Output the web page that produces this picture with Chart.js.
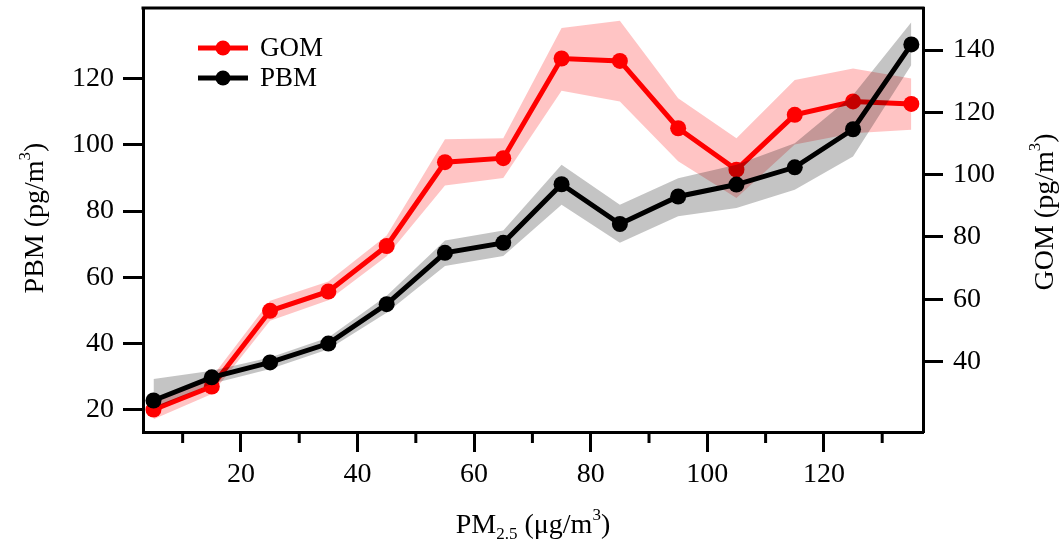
<!DOCTYPE html>
<html>
<head>
<meta charset="utf-8">
<script src="https://cdn.jsdelivr.net/npm/chart.js@4.4.1/dist/chart.umd.min.js"></script>
<style>
  html, body { margin: 0; padding: 0; background: #fff; }
  canvas { display: block; }
</style>
</head>
<body>
<canvas id="chart_main" width="1063" height="547"></canvas>
<script>
"use strict";

// PM2.5 bins (μg/m3)
const pm_X    = [5, 15, 25, 35, 45, 55, 65, 75, 85, 95, 105, 115, 125, 135];

// GOM (right axis)
const gom_Val = [24.6, 32.0, 56.3, 62.5, 77.1, 104.0, 105.3, 137.3, 136.5, 114.9, 101.6, 119.2, 123.5, 122.7];
const gom_Hi  = [26.6, 35.0, 59.5, 65.7, 80.5, 111.4, 111.7, 147.1, 149.4, 124.5, 111.7, 130.4, 134.1, 130.9];
const gom_Lo  = [21.5, 29.6, 53.1, 59.7, 73.8,  96.5,  98.9, 126.9, 123.5, 104.3,  92.5, 109.7, 113.3, 114.4];

// PBM (left axis)
const pbm_Val = [22.8, 29.8, 34.3, 40.0, 51.9, 67.4, 70.4, 88.1, 76.1, 84.4, 88.0,  93.2, 104.7, 130.3];
const pbm_Hi  = [29.3, 31.8, 35.8, 41.8, 54.4, 71.1, 74.1, 94.0, 81.9, 89.9, 94.0, 100.5, 115.0, 137.0];
const pbm_Lo  = [20.5, 27.9, 32.3, 38.3, 49.3, 63.4, 66.4, 81.9, 70.4, 78.4, 80.9,  86.4,  96.5, 124.1];

const x_Ticks_Major = [20, 40, 60, 80, 100, 120];
const x_Ticks_Minor = [10, 30, 50, 70, 90, 110, 130];
const y_Ticks_L     = [20, 40, 60, 80, 100, 120];
const y_Ticks_R     = [40, 60, 80, 100, 120, 140];

const SERIF = "'Liberation Serif', 'DejaVu Serif', serif";
const pts = arr => arr.map((v, i) => ({ x: pm_X[i], y: v }));

// 上付き・下付き付きの文字
function drawRuns(ctx, runs, cx, y, size) {
    const big = size + 'px ' + SERIF, small = Math.round(size * 0.62) + 'px ' + SERIF;
    let w = 0;
    runs.forEach(r => { ctx.font = r[1] ? small : big; w += ctx.measureText(r[0]).width; });
    let x = cx - w / 2;
    ctx.textAlign = 'left';
    ctx.textBaseline = 'alphabetic';
    runs.forEach(r => {
        ctx.font = r[1] ? small : big;
        const dy = r[1] === 1 ? -size * 0.45 : (r[1] === 2 ? size * 0.2 : 0);
        ctx.fillText(r[0], x, y + dy);
        x += ctx.measureText(r[0]).width;
    });
}

const decor = {
    id: 'decor',
    afterDraw(chart) {
        const ctx = chart.ctx, a = chart.chartArea, sx = chart.scales.x;
        ctx.save();
        ctx.fillStyle = '#000';
        ctx.strokeStyle = '#000';
        // 上の枠
        ctx.lineWidth = 3;
        ctx.beginPath();
        ctx.moveTo(a.left - 1.5, a.top);
        ctx.lineTo(a.right + 1.5, a.top);
        ctx.stroke();
        // 補助目盛
        x_Ticks_Minor.forEach(v => {
            const px = sx.getPixelForValue(v);
            ctx.beginPath();
            ctx.moveTo(px, a.bottom);
            ctx.lineTo(px, a.bottom + 11);
            ctx.stroke();
        });
        // 軸タイトル
        drawRuns(ctx, [['PM', 0], ['2.5', 2], [' (μg/m', 0], ['3', 1], [')', 0]], 533, 533, 28);
        ctx.save();
        ctx.translate(43, 218);
        ctx.rotate(-Math.PI / 2);
        drawRuns(ctx, [['PBM (pg/m', 0], ['3', 1], [')', 0]], 0, 0, 28);
        ctx.restore();
        ctx.save();
        ctx.translate(1053, 212);
        ctx.rotate(-Math.PI / 2);
        drawRuns(ctx, [['GOM (pg/m', 0], ['3', 1], [')', 0]], 0, 0, 28);
        ctx.restore();
        // 凡例
        [['GOM', '#ff0000', 48], ['PBM', '#000000', 78]].forEach(e => {
            ctx.strokeStyle = e[1];
            ctx.fillStyle = e[1];
            ctx.lineWidth = 5;
            ctx.beginPath();
            ctx.moveTo(198, e[2]);
            ctx.lineTo(248, e[2]);
            ctx.stroke();
            ctx.beginPath();
            ctx.arc(223, e[2], 7.5, 0, Math.PI * 2);
            ctx.fill();
            ctx.fillStyle = '#000';
            ctx.font = '27px ' + SERIF;
            ctx.textAlign = 'left';
            ctx.textBaseline = 'middle';
            ctx.fillText(e[0], 260, e[2] + 1);
        });
        ctx.restore();
    }
};

const tickFont = { family: SERIF, size: 28 };
const keepTicks = list => s => { s.ticks = list.map(v => ({ value: v })); };
const noPad = s => { s.paddingTop = 0; s.paddingBottom = 0; s.paddingLeft = 0; s.paddingRight = 0; };

var ctx = document.getElementById('chart_main');
let chart = new Chart(ctx, {
    type: 'line',
    data: {
        datasets: [
            { label: 'GOM', data: pts(gom_Val), yAxisID: 'y2', order: 3,
              borderColor: '#ff0000', borderWidth: 5, backgroundColor: '#ff0000',
              pointRadius: 8, pointBorderWidth: 0, pointBackgroundColor: '#ff0000', fill: false },
            { label: 'GOM_hi', data: pts(gom_Hi), yAxisID: 'y2', order: 4,
              borderWidth: 0, pointRadius: 0, fill: '+1', backgroundColor: 'rgba(255,0,0,0.23)' },
            { label: 'GOM_lo', data: pts(gom_Lo), yAxisID: 'y2', order: 4,
              borderWidth: 0, pointRadius: 0, fill: false },
            { label: 'PBM', data: pts(pbm_Val), yAxisID: 'y', order: 1,
              borderColor: '#000000', borderWidth: 5, backgroundColor: '#000000',
              pointRadius: 8, pointBorderWidth: 0, pointBackgroundColor: '#000000', fill: false },
            { label: 'PBM_hi', data: pts(pbm_Hi), yAxisID: 'y', order: 2,
              borderWidth: 0, pointRadius: 0, fill: '+1', backgroundColor: 'rgba(0,0,0,0.23)' },
            { label: 'PBM_lo', data: pts(pbm_Lo), yAxisID: 'y', order: 2,
              borderWidth: 0, pointRadius: 0, fill: false },
        ],
    },
    options: {
        responsive: false,
        animation: false,
        layout: { padding: { top: 6, left: 0, right: 0, bottom: 0 } },
        elements: { line: { tension: 0 } },
        plugins: {
            legend: { display: false },
            tooltip: { enabled: false },
        },
        scales: {
            x: {
                type: 'linear', min: 3.2, max: 137,
                afterBuildTicks: keepTicks(x_Ticks_Major),
                afterFit: s => { s.height = 115; noPad(s); },
                border: { color: '#000', width: 3 },
                grid: { drawOnChartArea: false, tickLength: 20, tickWidth: 3, color: '#000' },
                ticks: { autoSkip: false, maxRotation: 0, padding: 6, color: '#000', font: tickFont },
            },
            y: {
                type: 'linear', position: 'left', min: 13.3, max: 141.3,
                afterBuildTicks: keepTicks(y_Ticks_L),
                afterFit: s => { s.width = 143; noPad(s); },
                border: { color: '#000', width: 3 },
                grid: { drawOnChartArea: false, tickLength: 20, tickWidth: 3, color: '#000' },
                ticks: { padding: 9, color: '#000', font: tickFont },
            },
            y2: {
                type: 'linear', position: 'right', min: 17.4, max: 153.5,
                afterBuildTicks: keepTicks(y_Ticks_R),
                afterFit: s => { s.width = 140; noPad(s); },
                border: { color: '#000', width: 3 },
                grid: { drawOnChartArea: false, tickLength: 20, tickWidth: 3, color: '#000' },
                ticks: { padding: 10, color: '#000', font: tickFont },
            },
        },
    },
    plugins: [decor],
});
</script>
</body>
</html>
